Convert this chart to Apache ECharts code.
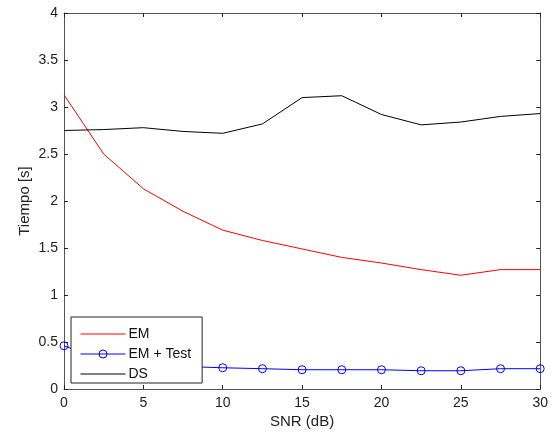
<!DOCTYPE html>
<html><head><meta charset="utf-8">
<script src="https://cdn.jsdelivr.net/npm/echarts@6/dist/echarts.min.js"></script>
<style>html,body{margin:0;padding:0;background:#fff}#c{width:551px;height:434px}</style>
</head><body><div id="c"></div>
<script>
var snr = [0, 2.5, 5, 7.5, 10, 12.5, 15, 17.5, 20, 22.5, 25, 27.5, 30];
var em = [3.13, 2.50, 2.13, 1.89, 1.69, 1.58, 1.49, 1.40, 1.34, 1.27, 1.21, 1.27, 1.27];
var emTest = [0.46, 0.30, 0.26, 0.24, 0.226, 0.216, 0.205, 0.205, 0.205, 0.194, 0.194, 0.216, 0.216];
var ds = [2.75, 2.76, 2.78, 2.74, 2.72, 2.82, 3.10, 3.12, 2.92, 2.81, 2.84, 2.90, 2.93];
var seriesNames = ['EM', 'EM + Test', 'DS'];
var xTicks = [0, 5, 10, 15, 20, 25, 30];
var yTicks = [0, 0.5, 1, 1.5, 2, 2.5, 3, 3.5, 4];

function pairs(v){ return snr.map(function(x,i){return [x, v[i]];}); }
var font = 'Liberation Sans, Arial, sans-serif';
var frame = '#555';
var hidden = {color:'rgba(0,0,0,0)', borderColor:'rgba(0,0,0,0)', borderWidth:0};
var chart = echarts.init(document.getElementById('c'), null, {renderer:'canvas'});
function xAx(pos, show){
  return {type:'value', position:pos, min:xTicks[0], max:xTicks[xTicks.length-1], interval:5,
    name: show ? 'SNR (dB)' : '', nameLocation:'middle', nameGap:25, nameMoveOverlap:false,
    nameTextStyle:{fontFamily:font, fontSize:15, color:'#222'},
    axisLine:{show:true, onZero:false, lineStyle:{color:frame, width:1}},
    axisTick:{show:true, inside:true, length:4, lineStyle:{color:'#222'}},
    axisLabel:{show:show, fontFamily:font, fontSize:14, color:'#222', margin:7},
    splitLine:{show:false}};
}
function yAx(pos, show){
  return {type:'value', position:pos, min:yTicks[0], max:yTicks[yTicks.length-1], interval:0.5,
    name: show ? 'Tiempo [s]' : '', nameLocation:'middle', nameGap:32, nameMoveOverlap:false,
    nameTextStyle:{fontFamily:font, fontSize:15, color:'#222'},
    axisLine:{show:true, onZero:false, lineStyle:{color:frame, width:1}},
    axisTick:{show:true, inside:true, length:4, lineStyle:{color:'#222'}},
    axisLabel:{show:show, fontFamily:font, fontSize:14, color:'#222', margin:6},
    splitLine:{show:false}};
}
chart.setOption({
  animation:false,
  backgroundColor:'#fff',
  grid:{left:64, right:8, top:13, bottom:44},
  xAxis:[xAx('bottom', true), xAx('top', false)],
  yAxis:[yAx('left', true), yAx('right', false)],
  legend:{
    orient:'vertical', left:71, top:317,
    data:[
      {name:seriesNames[0], itemStyle:hidden},
      {name:seriesNames[1], itemStyle:{color:'rgba(255,255,255,0)', borderColor:'#0000ff', borderWidth:1}},
      {name:seriesNames[2], itemStyle:hidden}
    ],
    icon:'inherit',
    itemWidth:45, itemHeight:10, itemGap:6,
    padding:[10, 11, 2, 9],
    lineStyle:{width:1},
    borderColor:'#222', borderWidth:1, backgroundColor:'#fff',
    textStyle:{fontFamily:font, fontSize:14, color:'#111', padding:[0,0,0,-2]}
  },
  series:[
    {name:seriesNames[0], type:'line', data:pairs(em), symbol:'none',
      lineStyle:{color:'#ff0000', width:1}, itemStyle:{color:'#ff0000'}},
    {name:seriesNames[1], type:'line', data:pairs(emTest), symbol:'circle', symbolSize:8,
      lineStyle:{color:'#0000ff', width:1},
      itemStyle:{color:'rgba(255,255,255,0)', borderColor:'#0000ff', borderWidth:1}},
    {name:seriesNames[2], type:'line', data:pairs(ds), symbol:'none',
      lineStyle:{color:'#000000', width:1}, itemStyle:{color:'#000000'}}
  ]
});
</script></body></html>
